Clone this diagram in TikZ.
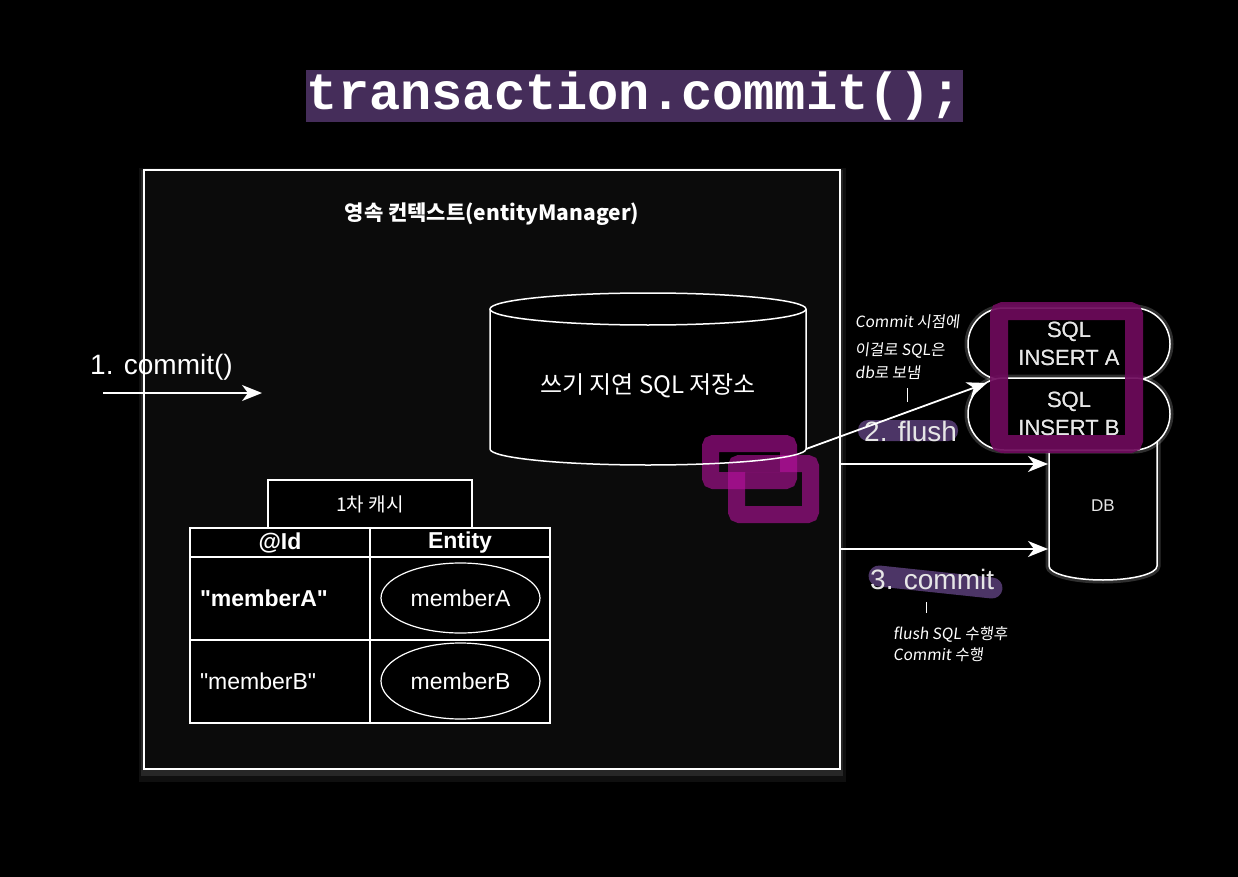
\documentclass[tikz,border=0pt]{standalone}
\usepackage{fontspec}
\setmainfont{Liberation Sans}[Ligatures=TeXOff]
\newfontfamily\kr{Noto Sans CJK KR}
\newfontfamily\hand[FakeSlant=0.12]{Noto Sans CJK KR}
\newfontfamily\mono{Liberation Mono}
\usetikzlibrary{arrows.meta,shapes.geometric,calc}
\definecolor{titlebg}{HTML}{452D5A}
\definecolor{framebg}{HTML}{0B0B0B}
\definecolor{hlpurple}{HTML}{4C3566}
\definecolor{boxpurple}{HTML}{6E0A5C}
\definecolor{magent}{HTML}{B8109F}
\definecolor{softwhite}{HTML}{E6E6E6}
\tikzset{
  arr/.style={draw=white, line width=1.8pt, -{Stealth[length=20pt,width=16pt,inset=6pt]}},
  cell/.style={draw=white, line width=1.5pt, fill=black, minimum width=180pt, inner sep=0pt, text=white},
  idcell/.style={cell, text width=160pt, inner xsep=10pt, align=left},
  entity/.style={ellipse, draw=white, line width=1.2pt, fill=black, minimum width=159pt, inner sep=0pt, text=white, font=\fontsize{23}{23}\selectfont},
  capsule/.style={draw=white, line width=1.5pt, fill=black, minimum width=202pt, minimum height=72pt, rounded corners=36pt, align=center, inner sep=0pt, text=softwhite, font=\fontsize{22}{28}\selectfont,
    preaction={draw=white, draw opacity=0.18, line width=7pt}},
  biglabel/.style={text=white, font=\fontsize{28}{28}\selectfont, inner sep=0pt},
  note/.style={text=white, font=\hand\fontsize{15.5}{15.5}\selectfont, inner sep=0pt, anchor=west},
  mrect/.style={draw=magent, draw opacity=0.6, line width=17pt, rounded corners=3pt}
}
\begin{document}
\begin{tikzpicture}[x=1pt,y=-1pt]
\fill[black] (0,0) rectangle (1238,877);
\useasboundingbox (0,0) rectangle (1238,877);

% title
\node[fill=titlebg, minimum width=657pt, minimum height=52pt, inner sep=0pt, text=white,
      font=\mono\bfseries\fontsize{52}{52}\selectfont] (title) at (634.5,96) {transaction.commit();};

% main frame with soft shadow
\fill[white, opacity=0.06] (139,168) rectangle (846,782);
\fill[white, opacity=0.10] (141,170) rectangle (843,776);
\node[draw=white, line width=2pt, fill=framebg, minimum width=696pt, minimum height=599pt, inner sep=0pt] (frame) at (492,469.5) {};
\node[text=white, font=\kr\bfseries\fontsize{21}{21}\selectfont] (pctitle) at (492,214) {영속 컨텍스트(entityManager)};

% write-behind SQL store cylinder
\fill[black] (490,309) -- (490,449) arc[start angle=180,end angle=0,x radius=158,y radius=16] -- (806,309) -- cycle;
\fill[black] (648,309) ellipse[x radius=158, y radius=16];
\draw[mrect] (710.5,443.5) rectangle (788.5,480.5);
\draw[mrect] (736.5,463.5) rectangle (810.5,514.5);
\draw[white, line width=1.5pt] (490,309) -- (490,449) arc[start angle=180,end angle=0,x radius=158,y radius=16] -- (806,309);
\draw[white, line width=1.5pt] (648,309) ellipse[x radius=158, y radius=16];
\node[text=white, font=\kr\fontsize{24}{24}\selectfont] (wsql) at (648,386) {쓰기 지연 SQL 저장소};
\coordinate (cylBR) at (806,449);

% 1. commit()
\node[biglabel, anchor=west] (c1) at (90,367) {1. commit()};
\coordinate (c1in) at (103,393);
\coordinate (c1out) at (262,393);
\draw[arr] (c1in) -- (c1out);

% first-level cache table
\node[draw=white, line width=1.5pt, fill=black, minimum width=204pt, minimum height=48pt, inner sep=0pt, text=white,
      font=\kr\fontsize{19}{19}\selectfont] (cache) at (370,504) {1차 캐시};
\node[cell, minimum height=29pt, font=\bfseries\fontsize{23}{23}\selectfont] (hid) at (280,542.5) {@Id};
\node[cell, minimum height=29pt, font=\bfseries\fontsize{23}{23}\selectfont] (hent) at (460,542.5) {Entity};
\node[idcell, minimum height=83pt, font=\bfseries\fontsize{23}{23}\selectfont] (r1id) at (280,598.5) {"memberA"};
\node[cell, minimum height=83pt] (r1ent) at (460,598.5) {};
\node[idcell, minimum height=83pt, font=\fontsize{23}{23}\selectfont] (r2id) at (280,681.5) {"memberB"};
\node[cell, minimum height=83pt] (r2ent) at (460,681.5) {};
\node[entity, minimum height=70pt] (eA) at (460.5,598) {memberA};
\node[entity, minimum height=76pt] (eB) at (460.5,681) {memberB};

% DB cylinder
\draw[white, draw opacity=0.18, line width=7pt] (1049,440) -- (1049,566) arc[start angle=180,end angle=0,x radius=54,y radius=14] -- (1157,440);
\fill[black] (1049,440) -- (1049,566) arc[start angle=180,end angle=0,x radius=54,y radius=14] -- (1157,440) -- cycle;
\draw[white, line width=1.5pt] (1049,440) -- (1049,566) arc[start angle=180,end angle=0,x radius=54,y radius=14] -- (1157,440);
\node[text=softwhite, font=\fontsize{17}{17}\selectfont] (db) at (1103,506) {DB};
\coordinate (dbA) at (1048,464);
\coordinate (dbB) at (1048,549);

% SQL capsules
\node[capsule] (sqlA) at (1069,344) {SQL\\INSERT A};
\node[capsule] (sqlB) at (1069,414) {SQL\\INSERT B};
\draw[boxpurple, draw opacity=0.92, line width=18pt, rounded corners=4pt] (999,311) rectangle (1134,444);
\node[text=softwhite, font=\fontsize{22}{28}\selectfont, align=center, inner sep=0pt] (tA) at (sqlA) {SQL\\INSERT A};
\node[text=softwhite, font=\fontsize{22}{28}\selectfont, align=center, inner sep=0pt] (tB) at (sqlB) {SQL\\INSERT B};
\coordinate (flushend) at (987,383);

% arrows to DB
\draw[arr] (frame.east |- dbA) -- (dbA);
\draw[arr] (frame.east |- dbB) -- (dbB);

% 2. flush
\fill[hlpurple, rounded corners=10pt] (858,420) rectangle (958,441);
\node[biglabel, text=softwhite, anchor=west] (flush) at (864,431) {2. flush};
\draw[arr] (cylBR) -- (flushend);

% 3. commit
\draw[hlpurple, line width=21pt, line cap=round] (879,576) -- (992,588);
\node[biglabel, text=softwhite, anchor=west] (c3) at (870,579) {3. commit};

% handwritten notes
\node[note] (n1) at (855,322) {Commit 시점에};
\node[note] (n2) at (855,351) {이걸로 SQL은};
\node[note] (n3) at (855,373) {db로 보냄};
\draw[white, line width=1pt] (907,388) -- (907,402);
\draw[white, line width=1pt] (926,602) -- (926,613);
\node[note] (n4) at (893,634) {flush SQL 수행후};
\node[note] (n5) at (893,655) {Commit 수행};
\end{tikzpicture}
\end{document}
